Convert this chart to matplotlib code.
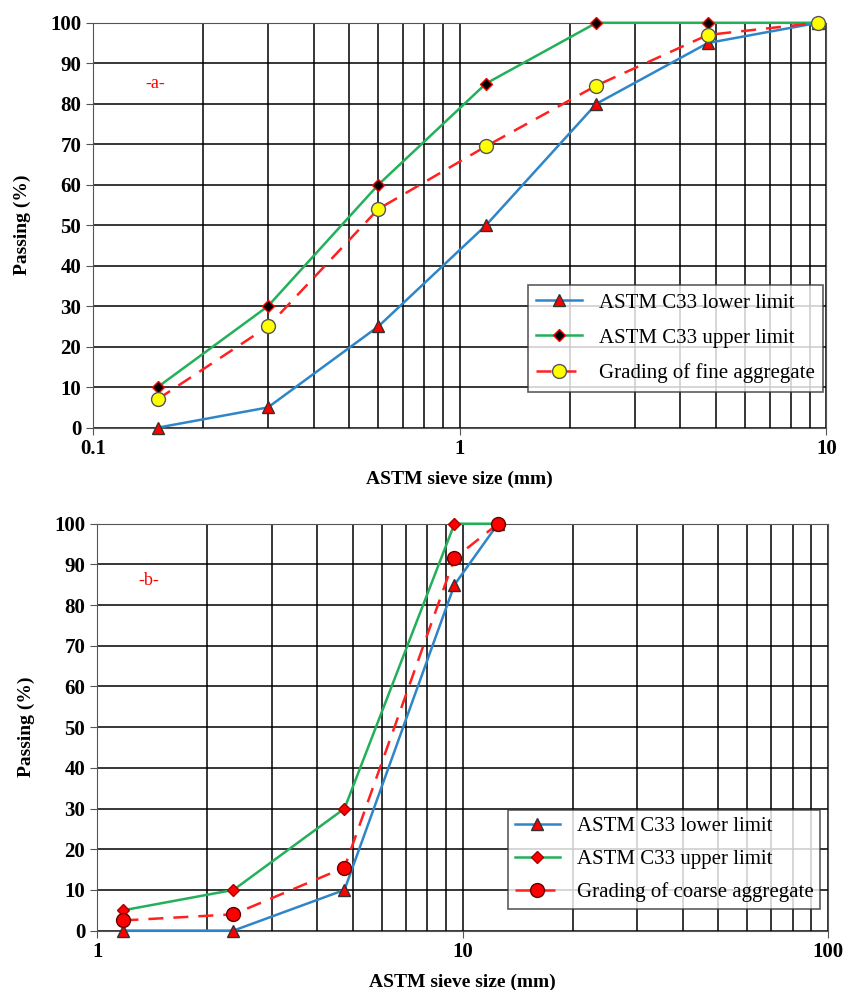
import matplotlib
matplotlib.use("Agg")
import matplotlib.pyplot as plt
from matplotlib.ticker import LogLocator, NullFormatter

plt.rcParams['font.family'] = ['Liberation Serif', 'DejaVu Serif']

# fine aggregate (a)
fine_sieve = [0.15, 0.3, 0.6, 1.18, 2.36, 4.75, 9.5]
fine_lower = [0, 5, 25, 50, 80, 95, 100]
fine_upper = [10, 30, 60, 85, 100, 100, 100]
fine_grading = [7, 25, 54, 69.5, 84.5, 97, 100]

# coarse aggregate (b)
coarse_sieve = [1.18, 2.36, 4.75, 9.5, 12.5]
coarse_lower = [0, 0, 10, 85, 100]
coarse_upper = [5, 10, 30, 100, 100]
coarse_grading = [2.5, 4, 15.5, 91.5, 100]

blue = "#2e86c9"
green = "#22b05a"
red = "#ff2020"

fig = plt.figure(figsize=(8.45, 9.9), dpi=100)
ax1 = fig.add_axes([0.110, 0.568, 0.868, 0.409])
ax2 = fig.add_axes([0.115, 0.060, 0.865, 0.411])


def style(ax, xlim):
    ax.set_xscale("log")
    ax.set_xlim(*xlim)
    ax.set_ylim(0, 100)
    ax.set_yticks(range(0, 101, 10))
    ax.xaxis.set_minor_locator(LogLocator(base=10, subs=range(2, 10)))
    ax.xaxis.set_minor_formatter(NullFormatter())
    ax.grid(True, which="both", color="black", lw=1.1)
    ax.set_axisbelow(True)
    for s in ax.spines.values():
        s.set_color("#555555")
    ax.tick_params(axis="both", which="major", labelsize=15, length=5, color="#555555")
    ax.tick_params(axis="x", which="minor", length=0)
    for lab in ax.get_xticklabels() + ax.get_yticklabels():
        lab.set_fontweight("bold")
    ax.set_ylabel("Passing (%)", fontsize=14, fontweight="bold", labelpad=14)
    ax.set_xlabel("ASTM sieve size (mm)", fontsize=14, fontweight="bold", labelpad=8)


# (a)
ax1.plot(fine_sieve, fine_lower, color=blue, lw=1.8, marker="^", ms=9,
         mfc="red", mec="#333333", label="ASTM C33 lower limit", zorder=3, clip_on=False)
ax1.plot(fine_sieve, fine_upper, color=green, lw=1.8, marker="D", ms=6,
         mfc="black", mec="red", label="ASTM C33 upper limit", zorder=3, clip_on=False)
ax1.plot(fine_sieve, fine_grading, color=red, lw=1.8, ls=(0, (6, 4)), marker="o", ms=10,
         mfc="yellow", mec="#555555", label="Grading of fine aggregate", zorder=4, clip_on=False)
style(ax1, (0.1, 10))
ax1.set_xticks([0.1, 1, 10])
ax1.set_xticklabels(["0.1", "1", "10"], fontweight="bold")
ax1.text(0.085, 0.84, "-a-", color="red", fontsize=13, transform=ax1.transAxes, ha="center")
leg1 = ax1.legend(loc="lower right", bbox_to_anchor=(0.995, 0.089), borderaxespad=0,
                  fontsize=15, frameon=True, fancybox=False, edgecolor="#333333",
                  borderpad=0.4, labelspacing=0.75, handlelength=2.2)
leg1.get_frame().set_linewidth(1.2)

# (b)
ax2.plot(coarse_sieve, coarse_lower, color=blue, lw=1.8, marker="^", ms=9,
         mfc="red", mec="#333333", label="ASTM C33 lower limit", zorder=3, clip_on=False)
ax2.plot(coarse_sieve, coarse_upper, color=green, lw=1.8, marker="D", ms=6,
         mfc="red", mec="#aa0000", label="ASTM C33 upper limit", zorder=3, clip_on=False)
ax2.plot(coarse_sieve, coarse_grading, color=red, lw=1.8, ls=(0, (6, 4)), marker="o", ms=10,
         mfc="red", mec="#660000", label="Grading of coarse aggregate", zorder=4, clip_on=False)
style(ax2, (1, 100))
ax2.set_xticks([1, 10, 100])
ax2.set_xticklabels(["1", "10", "100"], fontweight="bold")
ax2.text(0.07, 0.85, "-b-", color="red", fontsize=13, transform=ax2.transAxes, ha="center")
leg2 = ax2.legend(loc="lower right", bbox_to_anchor=(0.989, 0.054), borderaxespad=0,
                  fontsize=15, frameon=True, fancybox=False, edgecolor="#333333",
                  borderpad=0.3, labelspacing=0.65, handlelength=2.2)
leg2.get_frame().set_linewidth(1.2)

fig.savefig("out.png", dpi=100)
